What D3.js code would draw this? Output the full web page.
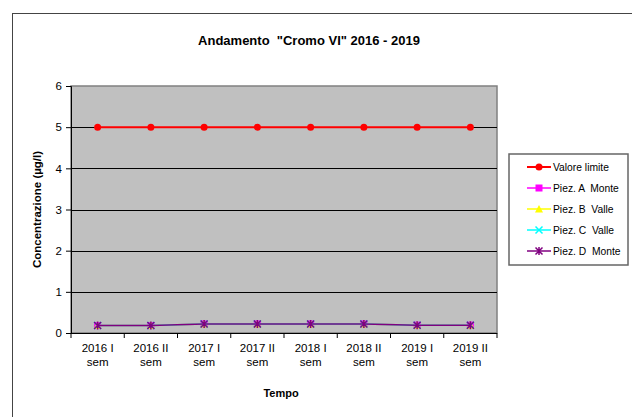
<!DOCTYPE html>
<html>
<head>
<meta charset="utf-8">
<script src="https://cdn.jsdelivr.net/npm/d3@7"></script>
<style>
  body { margin: 0; background: #fff; }
  svg { font-family: "Liberation Sans", Arial, sans-serif; }
</style>
</head>
<body>
<svg id="chart" width="632" height="417"></svg>
<script>
// data
const categories = ["2016 I sem", "2016 II sem", "2017 I sem", "2017 II sem",
  "2018 I sem", "2018 II sem", "2019 I sem", "2019 II sem"];
const valoreLimite = [5, 5, 5, 5, 5, 5, 5, 5];
const piezA = [0.18, 0.18, 0.22, 0.22, 0.22, 0.22, 0.19, 0.19];
const piezB = [0.18, 0.18, 0.22, 0.22, 0.22, 0.22, 0.19, 0.19];
const piezC = [0.18, 0.18, 0.22, 0.22, 0.22, 0.22, 0.19, 0.19];
const piezD = [0.18, 0.18, 0.22, 0.22, 0.22, 0.22, 0.19, 0.19];
const yTicks = [0, 1, 2, 3, 4, 5, 6];

const series = [
  { name: "Valore limite", values: valoreLimite, color: "#ff0000", marker: "circle", width: 2 },
  { name: "Piez. A  Monte", values: piezA, color: "#ff00ff", marker: "square", width: 1.5 },
  { name: "Piez. B  Valle", values: piezB, color: "#ffff00", marker: "triangle", width: 1.5 },
  { name: "Piez. C  Valle", values: piezC, color: "#00ffff", marker: "x", width: 1.5 },
  { name: "Piez. D  Monte", values: piezD, color: "#800080", marker: "star", width: 1.5 }
];

const svg = d3.select("#chart");

// outer chart border (runs past the picture at right and bottom)
svg.append("rect").attr("x", 12.5).attr("y", 13.5).attr("width", 640).attr("height", 420)
  .attr("fill", "#fff").attr("stroke", "#444").attr("stroke-width", 1);

const plot = { left: 71, right: 497, top: 86, bottom: 333 };

const x = d3.scaleBand().domain(categories).range([plot.left, plot.right]);
const y = d3.scaleLinear().domain([0, 6]).range([plot.bottom, plot.top]);

// plot area
svg.append("rect").attr("x", plot.left).attr("y", plot.top)
  .attr("width", plot.right - plot.left).attr("height", plot.bottom - plot.top)
  .attr("fill", "#c0c0c0").attr("stroke", "#808080").attr("stroke-width", 1.5);

// gridlines
svg.append("g").selectAll("line").data(yTicks.filter(d => d > 0 && d < 6)).join("line")
  .attr("x1", plot.left).attr("x2", plot.right)
  .attr("y1", d => Math.round(y(d)) + 0.5).attr("y2", d => Math.round(y(d)) + 0.5)
  .attr("stroke", "#000").attr("stroke-width", 1);

// y axis
const yAxis = svg.append("g").attr("transform", `translate(${plot.left},0)`)
  .call(d3.axisLeft(y).tickValues(yTicks).tickSize(5).tickPadding(4).tickFormat(d3.format("d")));
yAxis.select(".domain").attr("stroke", "#000");
yAxis.selectAll("text").attr("font-size", 11.5).attr("fill", "#000");

// x axis: ticks at band boundaries
const xg = svg.append("g");
xg.append("line").attr("x1", plot.left).attr("x2", plot.right)
  .attr("y1", plot.bottom + 0.5).attr("y2", plot.bottom + 0.5).attr("stroke", "#000");
const bounds = categories.map(c => x(c)).concat([plot.right]);
xg.selectAll("line.tk").data(bounds).join("line").attr("class", "tk")
  .attr("x1", d => d).attr("x2", d => d)
  .attr("y1", plot.bottom).attr("y2", plot.bottom + 5).attr("stroke", "#000");
const lbl = xg.selectAll("text").data(categories).join("text")
  .attr("text-anchor", "middle").attr("font-size", 11.5).attr("fill", "#000")
  .attr("x", d => x(d) + x.bandwidth() / 2);
lbl.append("tspan").attr("x", d => x(d) + x.bandwidth() / 2).attr("y", 352)
  .text(d => d.replace(/ sem$/, ""));
lbl.append("tspan").attr("x", d => x(d) + x.bandwidth() / 2).attr("y", 366).text("sem");

// titles
svg.append("text").attr("x", 309).attr("y", 45).attr("text-anchor", "middle")
  .attr("font-size", 13).attr("font-weight", "bold").style("white-space", "pre")
  .text('Andamento  "Cromo VI" 2016 - 2019');
svg.append("text").attr("x", 281).attr("y", 397).attr("text-anchor", "middle")
  .attr("font-size", 11).attr("font-weight", "bold").text("Tempo");
svg.append("text").attr("transform", `translate(41,${(plot.top + plot.bottom) / 2}) rotate(-90)`)
  .attr("text-anchor", "middle").attr("font-size", 11.5).attr("font-weight", "bold")
  .text("Concentrazione (µg/l)");

function drawMarker(g, type, color) {
  if (type === "circle") {
    g.append("circle").attr("r", 3.5).attr("fill", color);
  } else if (type === "square") {
    g.append("rect").attr("x", -3.5).attr("y", -3.5).attr("width", 7).attr("height", 7).attr("fill", color);
  } else if (type === "triangle") {
    g.append("path").attr("d", "M0,-4L4,3.5L-4,3.5Z").attr("fill", color);
  } else if (type === "x") {
    g.append("path").attr("d", "M-3.5,-3.5L3.5,3.5M-3.5,3.5L3.5,-3.5").attr("stroke", color).attr("stroke-width", 1.5);
  } else {
    g.append("path").attr("d", "M-3.5,-3.5L3.5,3.5M-3.5,3.5L3.5,-3.5M0,-4V4").attr("stroke", color).attr("stroke-width", 1.5);
  }
}

const line = d3.line().x((d, i) => x(categories[i]) + x.bandwidth() / 2).y(d => y(d));

series.forEach(s => {
  svg.append("path").datum(s.values).attr("d", line).attr("fill", "none")
    .attr("stroke", s.color).attr("stroke-width", s.width);
  svg.append("g").selectAll("g").data(s.values).join("g")
    .attr("transform", (d, i) => `translate(${x(categories[i]) + x.bandwidth() / 2},${y(d)})`)
    .each(function () { drawMarker(d3.select(this), s.marker, s.color); });
});

// legend
const legend = svg.append("g");
legend.append("rect").attr("x", 509).attr("y", 154).attr("width", 119).attr("height", 111)
  .attr("fill", "#fff").attr("stroke", "#666").attr("stroke-width", 1.5);
series.forEach((s, i) => {
  const ly = 167 + i * 21;
  legend.append("line").attr("x1", 527).attr("x2", 551).attr("y1", ly).attr("y2", ly)
    .attr("stroke", s.color).attr("stroke-width", s.width);
  drawMarker(legend.append("g").attr("transform", `translate(539,${ly})`), s.marker, s.color);
  legend.append("text").attr("x", 553).attr("y", ly + 3.5).attr("font-size", 10.3).attr("fill", "#000")
    .style("white-space", "pre").text(s.name);
});
</script>
</body>
</html>
